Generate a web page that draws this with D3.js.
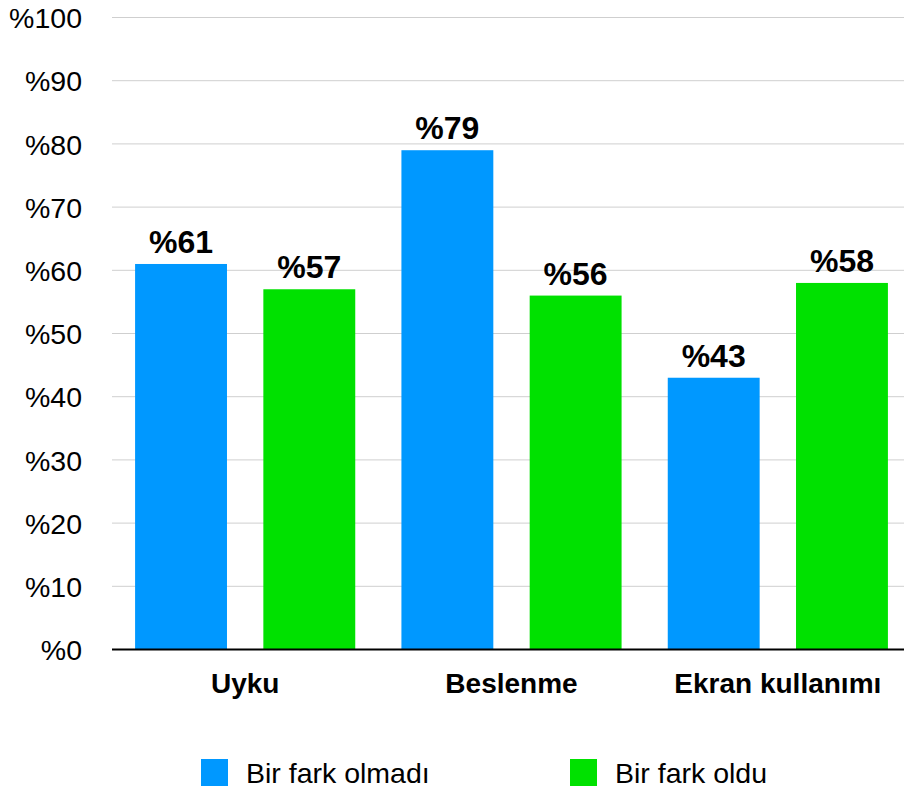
<!DOCTYPE html>
<html lang="tr">
<head>
    <meta charset="utf-8">
    <title>Bir fark oldu mu?</title>
    <style>
        html, body {
            margin: 0;
            padding: 0;
            background: #fff;
        }
        svg text {
            font-family: "Liberation Sans", Arial, Helvetica, sans-serif;
            fill: #000;
        }
        .grid line {
            stroke: #cfcfcf;
            stroke-width: 1px;
        }
    </style>
    <script src="https://cdn.jsdelivr.net/npm/d3@7"></script>
</head>
<body>
    <div id="chart"></div>
    <script>
        // data
        var categories = ["Uyku", "Beslenme", "Ekran kullanımı"];
        var seriesNames = ["Bir fark olmadı", "Bir fark oldu"];
        var seriesColors = ["#0098ff", "#00e100"];
        var noDifference = [61, 79, 43];
        var difference = [57, 56, 58];
        var yTicks = [0, 10, 20, 30, 40, 50, 60, 70, 80, 90, 100];

        var width = 904,
            height = 790;

        // plot box (window.top is reserved, so prefix these)
        var plotLeft = 112,
            plotRight = 911,
            plotTop = 17.5,
            plotBottom = 649.5;

        var svg = d3.select("#chart").append("svg")
            .attr("width", width)
            .attr("height", height);

        var x0 = d3.scaleBand()
            .domain(categories)
            .range([plotLeft, plotRight]);

        var x1 = d3.scaleBand()
            .domain(seriesNames)
            .range([0, x0.bandwidth()])
            .paddingInner(0.2835)
            .paddingOuter(0.18);

        var y = d3.scaleLinear()
            .domain([0, 100])
            .range([plotBottom, plotTop]);

        // gridlines
        svg.append("g")
            .attr("class", "grid")
            .selectAll("line")
            .data(yTicks.filter(function(d) { return d > 0; }))
            .enter().append("line")
            .attr("x1", plotLeft)
            .attr("x2", width)
            .attr("y1", function(d) { return y(d); })
            .attr("y2", function(d) { return y(d); });

        // y axis labels
        var yAxis = d3.axisLeft(y)
            .tickValues(yTicks)
            .tickSize(0)
            .tickPadding(0)
            .tickFormat(function(d) { return "%" + d; });

        var yg = svg.append("g")
            .attr("transform", "translate(82,0)")
            .call(yAxis);
        yg.select(".domain").remove();
        yg.selectAll("text")
            .attr("dy", "0.36em")
            .style("font-size", "28.5px");

        // build rows for the grouped bars
        var rows = categories.map(function(c, i) {
            return {
                category: c,
                values: [
                    { series: seriesNames[0], value: noDifference[i], color: seriesColors[0] },
                    { series: seriesNames[1], value: difference[i], color: seriesColors[1] }
                ]
            };
        });

        var group = svg.append("g")
            .selectAll("g")
            .data(rows)
            .enter().append("g")
            .attr("transform", function(d) { return "translate(" + x0(d.category) + ",0)"; });

        group.selectAll("rect")
            .data(function(d) { return d.values; })
            .enter().append("rect")
            .attr("x", function(d) { return x1(d.series); })
            .attr("y", function(d) { return y(d.value); })
            .attr("width", x1.bandwidth())
            .attr("height", function(d) { return y(0) - y(d.value); })
            .attr("fill", function(d) { return d.color; });

        // value labels
        group.selectAll("text.value")
            .data(function(d) { return d.values; })
            .enter().append("text")
            .attr("class", "value")
            .attr("x", function(d) { return x1(d.series) + x1.bandwidth() / 2; })
            .attr("y", function(d) { return y(d.value) - 11; })
            .attr("text-anchor", "middle")
            .style("font-size", "32px")
            .style("font-weight", "bold")
            .text(function(d) { return "%" + d.value; });

        // baseline
        var xAxis = d3.axisBottom(x0)
            .tickSize(0)
            .tickPadding(0);

        var xg = svg.append("g")
            .attr("transform", "translate(0," + plotBottom + ")")
            .call(xAxis);
        xg.select(".domain")
            .attr("d", "M" + plotLeft + ",0H" + width)
            .attr("stroke", "#000")
            .attr("stroke-width", 2);
        xg.selectAll("text")
            .attr("dy", 0)
            .attr("y", 43)
            .style("font-size", "28px")
            .style("font-weight", "bold");

        // legend
        var legendX = [201, 570];
        var legend = svg.append("g")
            .selectAll("g")
            .data(seriesNames)
            .enter().append("g")
            .attr("transform", function(d, i) { return "translate(" + legendX[i] + ",759)"; });

        legend.append("rect")
            .attr("width", 27)
            .attr("height", 27)
            .attr("fill", function(d, i) { return seriesColors[i]; });

        legend.append("text")
            .attr("x", 45)
            .attr("y", 14)
            .attr("dy", "0.36em")
            .style("font-size", "28.5px")
            .text(function(d) { return d; });
    </script>
</body>
</html>
